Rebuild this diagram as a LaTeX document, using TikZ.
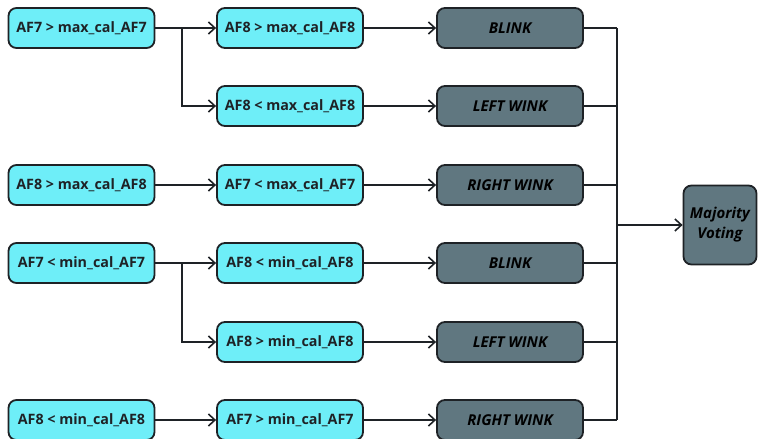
\documentclass[tikz,border=0pt]{standalone}
\usepackage{fontspec}
\setmainfont{Open Sans}
\usetikzlibrary{arrows.meta}
\definecolor{cyanbox}{RGB}{110,238,248}
\definecolor{darkbox}{RGB}{96,119,128}
\definecolor{edge}{RGB}{30,34,38}
\tikzset{
  base/.style={draw=edge, line width=1.8pt, rounded corners=8pt, minimum width=146pt, minimum height=40pt, inner sep=0pt, align=center},
  cbox/.style={base, fill=cyanbox, font=\fontsize{14.3}{16}\selectfont\bfseries, text=edge},
  dbox/.style={base, fill=darkbox, font=\fontsize{15}{16}\selectfont\bfseries\itshape, text=black},
  mbox/.style={base, fill=darkbox, minimum width=73pt, minimum height=79pt, font=\fontsize{15}{20}\selectfont\bfseries\itshape, text=black},
  wire/.style={draw=edge, line width=1.6pt},
  arr/.style={wire, -{Straight Barb[length=6.5pt,width=12pt,line width=1.6pt]}}
}
\begin{document}
\begin{tikzpicture}[x=1pt,y=-1pt]
\useasboundingbox (0,0) rectangle (763,439);
% column 1
\node[cbox] (a1) at (81.5,28) {AF7 > max\_cal\_AF7};
\node[cbox] (a3) at (81.5,185) {AF8 > max\_cal\_AF8};
\node[cbox] (a4) at (81.5,263) {AF7 < min\_cal\_AF7};
\node[cbox] (a6) at (81.5,420) {AF8 < min\_cal\_AF8};
% column 2
\node[cbox] (b1) at (290,28) {AF8 > max\_cal\_AF8};
\node[cbox] (b2) at (290,106) {AF8 < max\_cal\_AF8};
\node[cbox] (b3) at (290,185) {AF7 < max\_cal\_AF7};
\node[cbox] (b4) at (290,263) {AF8 < min\_cal\_AF8};
\node[cbox] (b5) at (290,342) {AF8 > min\_cal\_AF8};
\node[cbox] (b6) at (290,420) {AF7 > min\_cal\_AF7};
% column 3
\node[dbox] (c1) at (510,28) {BLINK};
\node[dbox] (c2) at (510,106) {LEFT WINK};
\node[dbox] (c3) at (510,185) {RIGHT WINK};
\node[dbox] (c4) at (510,263) {BLINK};
\node[dbox] (c5) at (510,342) {LEFT WINK};
\node[dbox] (c6) at (510,420) {RIGHT WINK};
% majority
\node[mbox] (m) at (720,225) {Majority\\Voting};
% branch points
\coordinate (k1) at (182,28);
\coordinate (k4) at (182,263);
\coordinate (bt) at (617,28);
\coordinate (bb) at (617,420);
\coordinate (bm) at (617,225);
% connectors
\draw[arr] (a1.east) -- (b1.west);
\draw[arr] (k1) |- (b2.west);
\draw[arr] (a3.east) -- (b3.west);
\draw[arr] (a4.east) -- (b4.west);
\draw[arr] (k4) |- (b5.west);
\draw[arr] (a6.east) -- (b6.west);
\foreach \i in {1,...,6}{
  \draw[arr] (b\i.east) -- (c\i.west);
  \draw[wire] (c\i.east) -- (c\i.east -| bt);
}
\draw[wire] (bt) -- (bb);
\draw[arr] (bm) -- (m.west);
\end{tikzpicture}
\end{document}
